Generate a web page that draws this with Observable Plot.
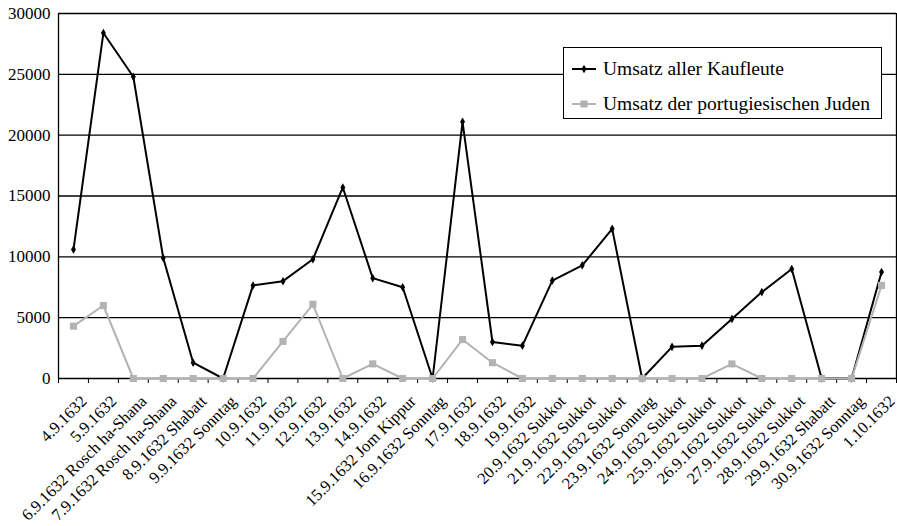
<!DOCTYPE html>
<html>
<head>
<meta charset="utf-8">
<script src="https://cdn.jsdelivr.net/npm/d3@7"></script>
<script src="https://cdn.jsdelivr.net/npm/@observablehq/plot@0.6"></script>
<style>
  html, body { margin: 0; padding: 0; background: #fff; }
  #wrap { position: relative; width: 897px; height: 526px; font-family: "Liberation Serif", serif; }
  #legend { position: absolute; left: 563px; top: 47px; width: 319px; height: 72px; box-sizing: border-box;
            border: 1.3px solid #000; background: #fff; }
  .row { position: absolute; left: 0; height: 22px; display: flex; align-items: center; }
  .row span { font-size: 19.5px; color: #000; white-space: nowrap; }
</style>
</head>
<body>
<div id="wrap"></div>
<script>
const categories = [
  "4.9.1632", "5.9.1632", "6.9.1632 Rosch ha-Shana", "7.9.1632 Rosch ha-Shana",
  "8.9.1632 Shabatt", "9.9.1632 Sonntag", "10.9.1632", "11.9.1632", "12.9.1632",
  "13.9.1632", "14.9.1632", "15.9.1632 Jom Kippur", "16.9.1632 Sonntag", "17.9.1632",
  "18.9.1632", "19.9.1632", "20.9.1632 Sukkot", "21.9.1632 Sukkot", "22.9.1632 Sukkot",
  "23.9.1632 Sonntag", "24.9.1632 Sukkot", "25.9.1632 Sukkot", "26.9.1632 Sukkot",
  "27.9.1632 Sukkot", "28.9.1632 Sukkot", "29.9.1632 Shabatt", "30.9.1632 Sonntag", "1.10.1632"
];
const umsatzAlle = [
  10600, 28400, 24800, 9900, 1300, 0, 7650, 8000, 9800, 15700, 8250, 7500, 0, 21100,
  3000, 2700, 8050, 9300, 12300, 0, 2600, 2700, 4900, 7100, 9000, 0, 0, 8750
];
const umsatzJuden = [
  4300, 6000, 0, 0, 0, 0, 0, 3050, 6100, 0, 1200, 0, 0, 3200,
  1300, 0, 0, 0, 0, 0, 0, 0, 1200, 0, 0, 0, 0, 7650
];
const yTicks = [0, 5000, 10000, 15000, 20000, 25000, 30000];
const seriesNames = ["Umsatz aller Kaufleute", "Umsatz der portugiesischen Juden"];

const data = categories.map((c, i) => ({ i, pos: i + 0.5, c, alle: umsatzAlle[i], juden: umsatzJuden[i] }));
const boundaries = d3.range(0, categories.length + 1);

const chart = Plot.plot({
  width: 897,
  height: 526,
  marginLeft: 58,
  marginRight: 1,
  marginTop: 13,
  marginBottom: 148,
  x: { domain: [0, categories.length], axis: null },
  y: { domain: [0, 30000], axis: null },
  style: { fontFamily: "Liberation Serif, serif", background: "white", color: "#000", overflow: "visible" },
  marks: [
    Plot.ruleY(yTicks, { stroke: "#000", strokeWidth: 1.3 }),
    Plot.ruleX([0, categories.length], { stroke: "#000", strokeWidth: 1.3 }),
    Plot.axisY({ ticks: yTicks, tickSize: 0, tickPadding: 8, fontSize: 17, label: null, tickFormat: d => String(d) }),
    Plot.axisX({ ticks: boundaries, tickSize: 5, label: null, tickFormat: () => "", stroke: "#000" }),
    Plot.text(data, { x: "pos", text: "c", frameAnchor: "bottom", rotate: -45, textAnchor: "end",
                      lineAnchor: "top", dx: 6, dy: 15.5, fontSize: 16.5, fill: "#000" }),
    Plot.lineY(data, { x: "pos", y: "alle", stroke: "#000", strokeWidth: 2 }),
    Plot.lineY(data, { x: "pos", y: "juden", stroke: "#b3b3b3", strokeWidth: 2 }),
    Plot.dot(data, { x: "pos", y: "alle", symbol: "diamond", r: 2.6, fill: "#000", stroke: "none" }),
    Plot.dot(data, { x: "pos", y: "juden", symbol: "square", r: 4, fill: "#b3b3b3", stroke: "none" })
  ]
});
const wrap = document.getElementById("wrap");
wrap.appendChild(chart);

// legend
const legend = document.createElement("div");
legend.id = "legend";
const entries = [
  { name: seriesNames[0], color: "#000", symbol: d3.symbolDiamond, size: 22, top: 11 },
  { name: seriesNames[1], color: "#b3b3b3", symbol: d3.symbolSquare, size: 50, top: 46 }
];
for (const e of entries) {
  const row = document.createElement("div");
  row.className = "row";
  row.style.top = (e.top - 1) + "px";
  const svg = d3.create("svg").attr("width", 39).attr("height", 22);
  svg.append("line").attr("x1", 8).attr("x2", 32).attr("y1", 11).attr("y2", 11)
    .attr("stroke", e.color).attr("stroke-width", 2);
  svg.append("path").attr("d", d3.symbol(e.symbol, e.size)()).attr("transform", "translate(20,11)").attr("fill", e.color);
  row.appendChild(svg.node());
  const span = document.createElement("span");
  span.textContent = e.name;
  row.appendChild(span);
  legend.appendChild(row);
}
wrap.appendChild(legend);
</script>
</body>
</html>
